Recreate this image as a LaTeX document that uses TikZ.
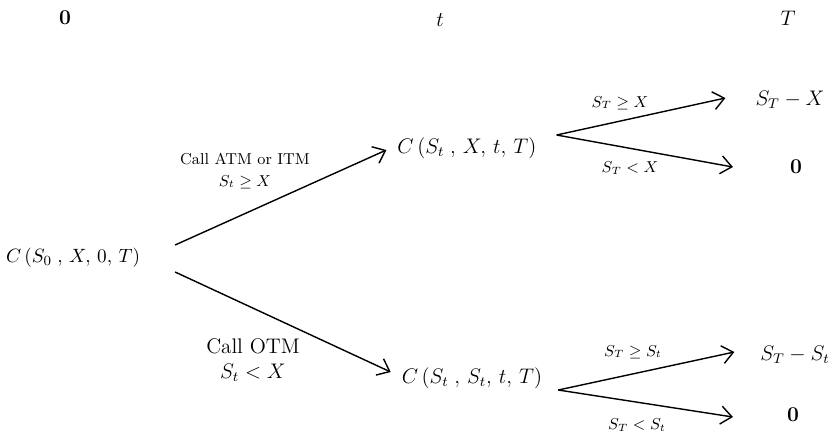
\documentclass[tikz,border=0pt]{standalone}
\usepackage{amsmath,amssymb}
\usetikzlibrary{arrows.meta, positioning}
\tikzset{
  price/.style  = {inner sep=1pt, font=\large},
  payoff/.style = {inner sep=1pt, font=\large},
  stamp/.style  = {inner sep=1pt, font=\large},
  cond/.style   = {inner sep=1pt, align=center, font=\small},
  branch/.style = {-{Straight Barb[length=2.2mm, width=3.6mm]}, thick, black},
}

\begin{document}
\begin{tikzpicture}[x=0.02cm, y=-0.02cm]
  % Rahmen wie Vorlage (829 x 437 px)
  \useasboundingbox (0,0) rectangle (829,437);

  % Zeitachse
  \node[stamp] (t0) at (65,18) {$\mathbf{0}$};
  \node[stamp] (tt) at (440,20) {$t$};
  \node[stamp] (tT) at (788,18) {$T$};

  % Knoten
  \node[price, font=\fontsize{11}{13}\selectfont] (c0) at (73,258) {$C\,(S_0\;,\,X,\,0,\,T)$};
  \node[price] (cup) at (467,148) {$C\,(S_t\;,\,X,\,t,\,T)$};
  \node[price] (clo) at (472,378) {$C\,(S_t\;,\,S_t,\,t,\,T)$};

  \node[payoff] (pux) at (790,100) {$S_T-X$};
  \node[payoff] (puz) at (796,167) {$\mathbf{0}$};
  \node[payoff] (plx) at (795,355) {$S_T-S_t$};
  \node[payoff] (plz) at (793,415) {$\mathbf{0}$};

  % Zweige
  \draw[branch] ([shift={(33,-13)}]c0.east) -- ([shift={(-9,2)}]cup.west);
  \draw[branch] ([shift={(33,14)}]c0.east) -- ([shift={(-9,-6)}]clo.west);

  \draw[branch] ([shift={(18,-13)}]cup.east) -- ([shift={(-28,-2)}]pux.west);
  \draw[branch] ([shift={(18,-13)}]cup.east) -- ([shift={(-55,0)}]puz.west);

  \draw[branch] ([shift={(14,12)}]clo.east) -- ([shift={(-24,-3)}]plx.west);
  \draw[branch] ([shift={(14,12)}]clo.east) -- ([shift={(-52,2)}]plz.west);

  % Bedingungen
  \node[cond] at (245,171) {Call ATM or ITM\\[1pt] $S_t\geq X$};
  \node[cond, font=\large] at (253,360) {Call OTM\\ $S_t<X$};
  \node[cond, fill=white] at (620,103) {$S_T\geq X$};
  \node[cond] at (630,168) {$S_T<X$};
  \node[cond] at (633,352) {$S_T\geq S_t$};
  \node[cond] at (637,425) {$S_T<S_t$};
\end{tikzpicture}
\end{document}
